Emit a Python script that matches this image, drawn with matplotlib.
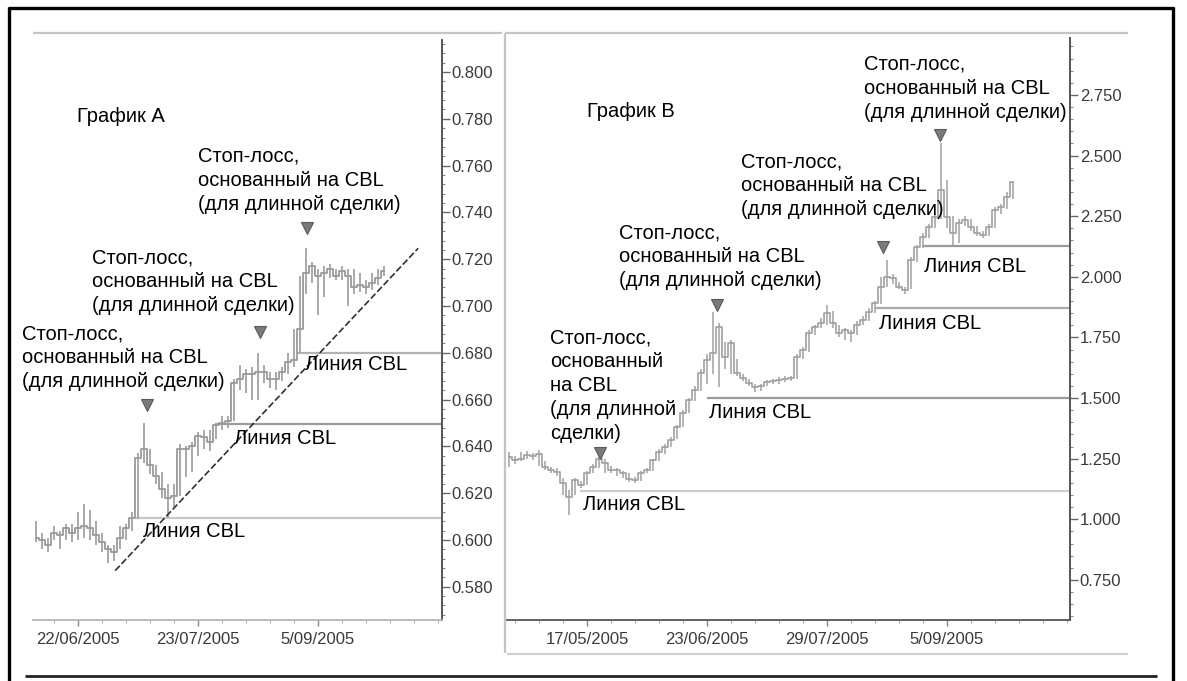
import matplotlib
matplotlib.use('Agg')
import matplotlib.pyplot as plt
from matplotlib.lines import Line2D
from matplotlib.ticker import FixedLocator, MultipleLocator, FuncFormatter
import numpy as np

W, H = 1187, 681
plt.rcParams['font.family'] = ['Liberation Sans', 'DejaVu Sans']

# ---------------- Chart A data ----------------
a_close = [0.601, 0.600, 0.598, 0.603, 0.602, 0.605, 0.603, 0.605, 0.606, 0.605,
           0.602, 0.599, 0.596, 0.595, 0.601, 0.605, 0.6095, 0.635, 0.639, 0.632,
           0.6275, 0.622, 0.618, 0.619, 0.639, 0.639, 0.640, 0.6446, 0.644, 0.642,
           0.649, 0.650, 0.651, 0.667, 0.669, 0.671, 0.671, 0.672, 0.672, 0.669,
           0.669, 0.672, 0.676, 0.677, 0.690, 0.714, 0.717, 0.713, 0.714, 0.716,
           0.713, 0.715, 0.713, 0.708, 0.709, 0.708, 0.710, 0.712, 0.715]
a_high = [0.608, 0.603, 0.601, 0.606, 0.604, 0.607, 0.607, 0.612, 0.6155, 0.613,
          0.608, 0.603, 0.598, 0.598, 0.606, 0.607, 0.612, 0.637, 0.650, 0.639,
          0.632, 0.629, 0.624, 0.624, 0.641, 0.640, 0.642, 0.646, 0.647, 0.647,
          0.650, 0.653, 0.653, 0.669, 0.6746, 0.673, 0.674, 0.680, 0.675, 0.672,
          0.672, 0.674, 0.680, 0.690, 0.713, 0.7247, 0.719, 0.716, 0.717, 0.718,
          0.716, 0.717, 0.716, 0.716, 0.714, 0.711, 0.714, 0.716, 0.717]
a_low = [0.599, 0.596, 0.595, 0.600, 0.596, 0.600, 0.599, 0.600, 0.601, 0.600,
         0.598, 0.595, 0.590, 0.591, 0.596, 0.600, 0.604, 0.609, 0.633, 0.628,
         0.624, 0.618, 0.6095, 0.614, 0.619, 0.627, 0.629, 0.636, 0.639, 0.638,
         0.643, 0.647, 0.648, 0.651, 0.664, 0.663, 0.660, 0.660, 0.667, 0.665,
         0.664, 0.668, 0.671, 0.674, 0.680, 0.705, 0.710, 0.696, 0.704, 0.712,
         0.711, 0.711, 0.700, 0.705, 0.706, 0.705, 0.707, 0.709, 0.713]
a_tick_pos = [7, 27, 47]
a_tick_labels = ['22/06/2005', '23/07/2005', '5/09/2005']
a_yticks = [0.580, 0.600, 0.620, 0.640, 0.660, 0.680, 0.700, 0.720, 0.740, 0.760, 0.780, 0.800]
a_cbl_start = [16.5, 29.8, 43.5]
a_cbl_price = [0.6095, 0.6494, 0.680]
a_stop_x = [18.5, 37.3, 45.2]
a_stop_y = [0.6575, 0.6887, 0.7332]
a_trend_x = [13.2, 63.7]
a_trend_y = [0.5869, 0.7247]

# ---------------- Chart B data ----------------
b_close = [1.257, 1.244, 1.250, 1.265, 1.260, 1.270, 1.215, 1.203, 1.195, 1.149,
           1.092, 1.162, 1.141, 1.190, 1.215, 1.250, 1.232, 1.203, 1.203, 1.190,
           1.165, 1.162, 1.190, 1.203, 1.244, 1.277, 1.298, 1.327, 1.380, 1.438,
           1.492, 1.533, 1.603, 1.657, 1.686, 1.793, 1.669, 1.727, 1.603, 1.583,
           1.562, 1.545, 1.550, 1.566, 1.570, 1.575, 1.578, 1.582, 1.669, 1.698,
           1.768, 1.793, 1.810, 1.851, 1.810, 1.768, 1.780, 1.770, 1.800, 1.822,
           1.855, 1.892, 1.958, 1.999, 1.995, 1.958, 1.946, 2.069, 2.123, 2.164,
           2.205, 2.247, 2.358, 2.247, 2.180, 2.222, 2.234, 2.205, 2.180, 2.172,
           2.205, 2.276, 2.288, 2.330, 2.390]
b_high = [1.277, 1.260, 1.277, 1.280, 1.275, 1.285, 1.240, 1.215, 1.210, 1.170,
          1.120, 1.170, 1.160, 1.200, 1.230, 1.257, 1.250, 1.220, 1.210, 1.200,
          1.190, 1.175, 1.200, 1.210, 1.250, 1.290, 1.310, 1.340, 1.390, 1.450,
          1.500, 1.550, 1.620, 1.680, 1.855, 1.810, 1.730, 1.740, 1.660, 1.600,
          1.580, 1.560, 1.560, 1.575, 1.580, 1.585, 1.590, 1.590, 1.680, 1.710,
          1.780, 1.800, 1.830, 1.883, 1.860, 1.800, 1.790, 1.780, 1.820, 1.840,
          1.870, 1.900, 2.000, 2.069, 2.010, 1.980, 1.960, 2.080, 2.130, 2.180,
          2.220, 2.260, 2.552, 2.400, 2.250, 2.240, 2.250, 2.240, 2.210, 2.190,
          2.220, 2.290, 2.300, 2.350, 2.390]
b_low = [1.215, 1.230, 1.240, 1.250, 1.245, 1.220, 1.205, 1.190, 1.180, 1.100,
         1.017, 1.100, 1.130, 1.140, 1.190, 1.210, 1.190, 1.190, 1.180, 1.170,
         1.153, 1.150, 1.160, 1.190, 1.200, 1.240, 1.270, 1.300, 1.330, 1.380,
         1.440, 1.490, 1.530, 1.560, 1.600, 1.545, 1.620, 1.600, 1.590, 1.570,
         1.550, 1.525, 1.530, 1.550, 1.560, 1.560, 1.565, 1.570, 1.580, 1.660,
         1.690, 1.760, 1.790, 1.800, 1.790, 1.750, 1.740, 1.731, 1.760, 1.800,
         1.820, 1.850, 1.890, 1.960, 1.970, 1.950, 1.930, 1.950, 2.060, 2.120,
         2.160, 2.200, 2.240, 2.200, 2.131, 2.140, 2.210, 2.190, 2.170, 2.160,
         2.170, 2.200, 2.260, 2.280, 2.320]
b_tick_pos = [13, 33, 53, 73]
b_tick_labels = ['17/05/2005', '23/06/2005', '29/07/2005', '5/09/2005']
b_yticks = [0.750, 1.000, 1.250, 1.500, 1.750, 2.000, 2.250, 2.500, 2.750]
b_cbl_start = [11.8, 33.0, 61.0, 68.8]
b_cbl_price = [1.116, 1.500, 1.870, 2.127]
b_stop_x = [15.2, 34.7, 62.3, 71.8]
b_stop_y = [1.272, 1.883, 2.123, 2.585]

# ---------------- Text ----------------
title_a = 'График А'
title_b = 'График В'
stop_text = ['Стоп-лосс,', 'основанный на CBL', '(для длинной сделки)']
stop_text_narrow = ['Стоп-лосс,', 'основанный', 'на CBL', '(для длинной', 'сделки)']
cbl_text = 'Линия CBL'

fig = plt.figure(figsize=(W / 100, H / 100), dpi=100)
fig.patch.set_facecolor('white')


def fx(x):
    return x / W


def fy(y):
    return 1 - y / H


def fig_line(x1, y1, x2, y2, color, lw):
    fig.add_artist(Line2D([fx(x1), fx(x2)], [fy(y1), fy(y2)], transform=fig.transFigure,
                          color=color, lw=lw, solid_capstyle='butt'))


def ftext(x, y, s, size=14.5, color='black'):
    fig.text(fx(x), fy(y + 7), s, ha='left', va='baseline', fontsize=size, color=color)


def flines(x, y0, lines, dy=24):
    for k, s in enumerate(lines):
        ftext(x, y0 + k * dy, s)


# frame lines
fig_line(8, 8, 1174, 8, 'black', 2.4)
fig_line(9, 7, 9, 681, 'black', 2.4)
fig_line(1173, 7, 1173, 681, 'black', 2.4)
fig_line(25, 676, 1157, 676, '#222222', 2.0)
# panel lines
fig_line(33, 33, 502, 33, '#c4c4c4', 1.6)
fig_line(505, 33, 1128, 33, '#c4c4c4', 1.6)
fig_line(505, 33, 505, 653, '#c4c4c4', 1.6)
fig_line(507, 654, 1128, 654, '#cfcfcf', 1.6)


def make_axes(l, r, t, b):
    ax = fig.add_axes([fx(l), fy(b), (r - l) / W, (b - t) / H])
    ax.set_facecolor('none')
    for s in ['left', 'top']:
        ax.spines[s].set_visible(False)
    ax.yaxis.tick_right()
    return ax


def style_axes(ax, yticks, ymaj_minor, bottom_color, xpos, xlabels, xminor_off):
    ax.spines['right'].set_color('#555555')
    ax.spines['right'].set_linewidth(1.4)
    ax.spines['bottom'].set_color(bottom_color)
    ax.spines['bottom'].set_linewidth(1.3)
    ax.yaxis.set_major_locator(FixedLocator(yticks))
    ax.yaxis.set_minor_locator(MultipleLocator(ymaj_minor))
    ax.yaxis.set_major_formatter(FuncFormatter(lambda v, p: '%.3f' % v))
    ax.tick_params(axis='y', which='major', direction='out', length=6, width=1,
                   color='#666666', pad=1, labelsize=12, labelcolor='#3a3a3a')
    ax.tick_params(axis='y', which='minor', direction='out', length=2.5, width=0.8,
                   color='#888888')
    ax.xaxis.set_major_locator(FixedLocator(xpos))
    ax.set_xticklabels(xlabels)
    ax.xaxis.set_minor_locator(MultipleLocator(4, offset=xminor_off))
    ax.tick_params(axis='x', which='major', direction='out', length=4, width=1,
                   color='#888888', pad=5, labelsize=12, labelcolor='#3a3a3a')
    ax.tick_params(axis='x', which='minor', direction='out', length=2.5, width=0.8,
                   color='#aaaaaa')


# ---------------- Chart A ----------------
axA = make_axes(33, 442, 40, 620)
xa = np.arange(len(a_close))
axA.set_xlim(-0.5, 67.67)
axA.set_ylim(0.5658, 0.8137)
style_axes(axA, a_yticks, 0.004, '#b5b5b5', a_tick_pos, a_tick_labels, 3)
cbl_colors_a = ['#c8c8c8', '#9c9c9c', '#b2b2b2']
for xs, p, c in zip(a_cbl_start, a_cbl_price, cbl_colors_a):
    axA.plot([xs, 67.67], [p, p], color=c, lw=1.6, solid_capstyle='butt', zorder=1)
axA.vlines(xa, a_low, a_high, color='#a2a2a2', lw=1.3, zorder=2)
axA.step(xa, a_close, where='mid', color='#9a9a9a', lw=1.3, zorder=2)
axA.plot(a_trend_x, a_trend_y, color='#303030', lw=1.2, ls=(0, (4, 1.6)), zorder=3)
axA.plot(a_stop_x, a_stop_y, ls='none', marker='v', ms=8, mfc='#7a7a7a', mec='#5a5a5a',
         mew=0.8, zorder=4)

# ---------------- Chart B ----------------
axB = make_axes(507, 1070, 38, 620)
xb = np.arange(len(b_close))
axB.set_xlim(-0.33, 93.5)
axB.set_ylim(0.585, 2.985)
style_axes(axB, b_yticks, 0.05, '#555555', b_tick_pos, b_tick_labels, 1)
cbl_colors_b = ['#cccccc', '#9a9a9a', '#aaaaaa', '#9a9a9a']
for xs, p, c in zip(b_cbl_start, b_cbl_price, cbl_colors_b):
    axB.plot([xs, 93.5], [p, p], color=c, lw=1.6, solid_capstyle='butt', zorder=1)
axB.vlines(xb, b_low, b_high, color='#a8a8a8', lw=1.2, zorder=2)
axB.step(xb, b_close, where='mid', color='#a0a0a0', lw=1.2, zorder=2)
axB.plot(b_stop_x, b_stop_y, ls='none', marker='v', ms=8, mfc='#7a7a7a', mec='#5a5a5a',
         mew=0.8, zorder=4)

# ---------------- Annotations ----------------
ftext(77, 115, title_a)
flines(198, 155, stop_text)
flines(92, 256, stop_text)
flines(22, 332, stop_text)
ftext(143, 530, cbl_text)
ftext(234, 437, cbl_text)
ftext(305, 363, cbl_text)

ftext(587, 110, title_b)
flines(550, 336, stop_text_narrow)
flines(619, 231, stop_text)
flines(741, 160, stop_text)
flines(864, 63, stop_text)
ftext(583, 503, cbl_text)
ftext(709, 411, cbl_text)
ftext(879, 322, cbl_text)
ftext(924, 265, cbl_text)

fig.savefig('out.png', dpi=100)
